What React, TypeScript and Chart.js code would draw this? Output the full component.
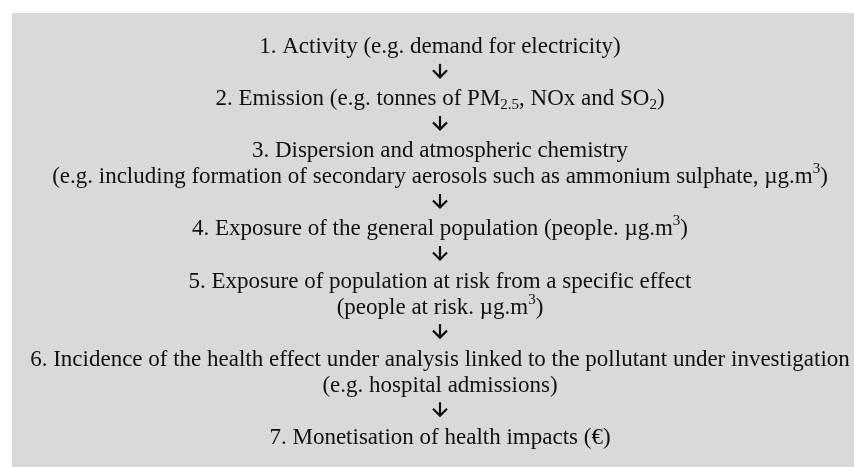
import React, { useEffect, useRef } from "react";
import { Chart, registerables } from "chart.js";

Chart.register(...registerables);

// Flow steps (top to bottom). "_{..}" = subscript, "^{..}" = superscript.
const ARROW = "↓";
const stepLines: string[] = [
  "1. Activity (e.g. demand for electricity)",
  ARROW,
  "2. Emission (e.g. tonnes of PM_{2.5}, NOx and SO_{2})",
  ARROW,
  "3. Dispersion and atmospheric chemistry",
  "(e.g. including formation of secondary aerosols such as ammonium sulphate, µg.m^{3})",
  ARROW,
  "4. Exposure of the general population (people. µg.m^{3})",
  ARROW,
  "5. Exposure of population at risk from a specific effect",
  "(people at risk. µg.m^{3})",
  ARROW,
  "6. Incidence of the health effect under analysis linked to the pollutant under investigation",
  "(e.g. hospital admissions)",
  ARROW,
  "7. Monetisation of health impacts (€)",
];
const rowIndex: number[] = stepLines.map((_, i) => i);

const FONT_FAMILY = '"Liberation Serif", "Times New Roman", serif';
const MAIN_SIZE = 23;
const SMALL_SIZE = 15;
const TEXT_COLOR = "#111111";
const BOX_COLOR = "#d9d9d9";

type Run = { t: string; k: "n" | "sub" | "sup" };

function parseRuns(s: string): Run[] {
  const parts = s.split(/(_\{[^}]*\}|\^\{[^}]*\})/);
  const runs: Run[] = [];
  for (const p of parts) {
    if (!p) continue;
    if (p.startsWith("_{")) runs.push({ t: p.slice(2, -1), k: "sub" });
    else if (p.startsWith("^{")) runs.push({ t: p.slice(2, -1), k: "sup" });
    else runs.push({ t: p, k: "n" });
  }
  return runs;
}

function drawRich(ctx: CanvasRenderingContext2D, s: string, cx: number, by: number) {
  const runs = parseRuns(s);
  const fontFor = (r: Run) => `${r.k === "n" ? MAIN_SIZE : SMALL_SIZE}px ${FONT_FAMILY}`;
  let total = 0;
  const widths = runs.map((r) => {
    ctx.font = fontFor(r);
    const w = ctx.measureText(r.t).width;
    total += w;
    return w;
  });
  let x = cx - total / 2;
  ctx.fillStyle = TEXT_COLOR;
  ctx.textAlign = "left";
  ctx.textBaseline = "alphabetic";
  runs.forEach((r, i) => {
    ctx.font = fontFor(r);
    const dy = r.k === "sub" ? 4 : r.k === "sup" ? -10 : 0;
    ctx.fillText(r.t, x, by + dy);
    x += widths[i];
  });
}

function drawArrow(ctx: CanvasRenderingContext2D, cx: number, by: number) {
  const top = by - 15.5;
  const bottom = by - 2;
  ctx.save();
  ctx.strokeStyle = TEXT_COLOR;
  ctx.lineWidth = 2.2;
  ctx.lineCap = "butt";
  ctx.lineJoin = "miter";
  ctx.beginPath();
  ctx.moveTo(cx, top);
  ctx.lineTo(cx, bottom - 1);
  ctx.stroke();
  ctx.beginPath();
  ctx.moveTo(cx - 7, bottom - 7);
  ctx.lineTo(cx, bottom);
  ctx.lineTo(cx + 7, bottom - 7);
  ctx.stroke();
  ctx.restore();
}

const flowPlugin = {
  id: "flowText",
  beforeDraw(chart: any) {
    const { ctx, chartArea } = chart;
    ctx.save();
    ctx.fillStyle = BOX_COLOR;
    ctx.fillRect(chartArea.left, chartArea.top, chartArea.right - chartArea.left, chartArea.bottom - chartArea.top);
    ctx.restore();
  },
  afterDatasetsDraw(chart: any) {
    const ctx: CanvasRenderingContext2D = chart.ctx;
    const meta = chart.getDatasetMeta(0);
    ctx.save();
    meta.data.forEach((el: any, i: number) => {
      const { x, y } = el.getProps(["x", "y"], true);
      const label = stepLines[i];
      if (label === ARROW) drawArrow(ctx, x, y);
      else drawRich(ctx, label, x, y);
    });
    ctx.restore();
  },
};

export default function App() {
  const canvasRef = useRef<HTMLCanvasElement | null>(null);

  useEffect(() => {
    if (!canvasRef.current) return;
    const chart = new Chart(canvasRef.current, {
      type: "scatter",
      data: {
        datasets: [
          {
            data: rowIndex.map((r) => ({ x: 0, y: r })),
            pointRadius: 0,
            pointHoverRadius: 0,
            showLine: false,
          },
        ],
      },
      options: {
        animation: false,
        responsive: true,
        maintainAspectRatio: false,
        devicePixelRatio: 1,
        events: [],
        layout: { padding: { left: 12, top: 13, right: 0, bottom: 0 } },
        plugins: { legend: { display: false }, tooltip: { enabled: false } },
        scales: {
          x: { type: "linear", display: false, min: -428, max: 414 },
          y: { type: "linear", display: false, reverse: true, min: -1.548, max: 15.894 },
        },
      },
      plugins: [flowPlugin],
    });
    return () => chart.destroy();
  }, []);

  return (
    <div style={{ position: "fixed", left: 0, top: 0, width: 854, height: 467, background: "#ffffff" }}>
      <canvas ref={canvasRef} />
    </div>
  );
}
